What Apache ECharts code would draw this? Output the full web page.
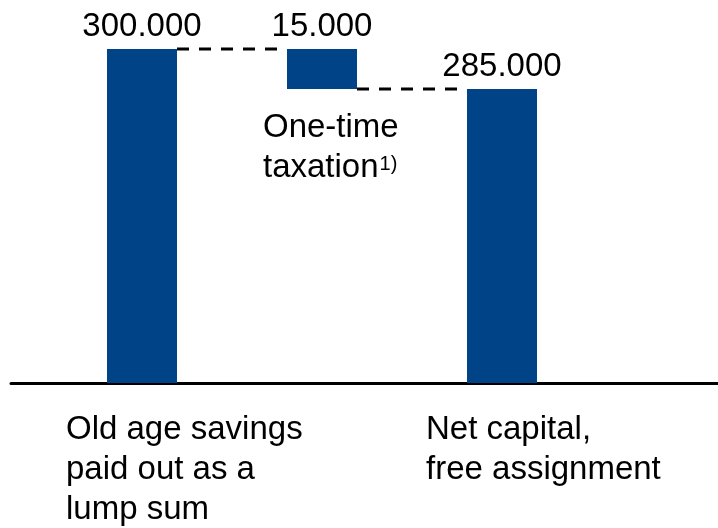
<!DOCTYPE html>
<html>
<head>
<meta charset="utf-8">
<script src="https://cdn.jsdelivr.net/npm/echarts@6/dist/echarts.min.js"></script>
<style>
  html, body { margin: 0; padding: 0; background: #fff; }
  #chart { width: 718px; height: 528px; }
</style>
</head>
<body>
<div id="chart"></div>
<script>
const categories = ['Old age savings\npaid out as a\nlump sum', '', 'Net capital,\nfree assignment']
const totals = [300000, '-', 285000]
const deltas = ['-', 15000, '-']
const bases = ['-', 285000, '-']
// connector lines: from category i to i+1 at value
const steps = [[0, 300000], [1, 285000]]
const deltaNote = ['One-time', 'taxation']
const footnote = '1)'

const FONT = '"Liberation Sans", Arial, sans-serif'
const BLUE = '#004487'
const BAR_W = 70

const fmt = (v) => String(v).replace(/\B(?=(\d{3})+(?!\d))/g, '.')

const myChart = echarts.init(document.getElementById('chart'))

const topLabel = {
    show: true,
    position: 'top',
    distance: 6,
    color: '#000',
    fontFamily: FONT,
    fontSize: 33,
    formatter: (p) => fmt(p.value)
}

const option = {
    animation: false,
    grid: [
        { left: 52, right: 126, top: 49, bottom: 145 },
        { left: 11, right: 0, top: 49, bottom: 144.5 }
    ],
    xAxis: [{
        type: 'category',
        data: categories,
        axisLine: { show: false },
        axisTick: { show: false },
        axisLabel: {
            interval: 0,
            margin: 27,
            align: 'center',
            verticalAlign: 'top',
            width: 152,
            overflow: 'none',
            formatter: (v) => v.split('\n').map((s) => '{a|' + s + '}').join('\n'),
            rich: {
                a: { align: 'left', fontFamily: FONT, fontSize: 33, lineHeight: 40, color: '#000' }
            }
        }
    }, {
        type: 'value',
        gridIndex: 1,
        axisLine: { show: true, lineStyle: { color: '#000', width: 3 } },
        axisTick: { show: false },
        axisLabel: { show: false },
        splitLine: { show: false }
    }],
    yAxis: [{
        type: 'value',
        min: 175000,
        max: 300000,
        show: false
    }, {
        type: 'value',
        gridIndex: 1,
        show: false
    }],
    series: [{
        name: 'base',
        type: 'bar',
        stack: 'w',
        barWidth: BAR_W,
        itemStyle: { color: 'transparent' },
        data: bases,
        label: {
            show: true,
            position: 'insideTop',
            distance: 19,
            align: 'center',
            width: 118,
            overflow: 'none',
            formatter: () => '{a|' + deltaNote[0] + '}\n{a|' + deltaNote[1] + '}{s|' + footnote + '}',
            rich: {
                a: { align: 'left', fontFamily: FONT, fontSize: 33, lineHeight: 40, color: '#000' },
                s: { align: 'left', verticalAlign: 'top', fontFamily: FONT, fontSize: 20, lineHeight: 36, padding: [6, 0, 0, 1], color: '#000' }
            }
        }
    }, {
        name: 'delta',
        type: 'bar',
        stack: 'w',
        barWidth: BAR_W,
        itemStyle: { color: BLUE },
        data: deltas,
        label: topLabel
    }, {
        name: 'total',
        type: 'bar',
        stack: 'w',
        barWidth: BAR_W,
        itemStyle: { color: BLUE },
        data: totals,
        label: topLabel
    }, {
        name: 'connector',
        type: 'custom',
        data: steps,
        z: 3,
        renderItem: (params, api) => {
            const i = api.value(0)
            const v = api.value(1)
            const a = api.coord([i, v])
            const b = api.coord([i + 1, v])
            return {
                type: 'line',
                shape: { x1: a[0] + BAR_W / 2, y1: a[1], x2: b[0] - BAR_W / 2, y2: b[1] },
                style: { stroke: '#000', lineWidth: 3, lineDash: [12, 10] }
            }
        }
    }]
}

myChart.setOption(option)
</script>
</body>
</html>
